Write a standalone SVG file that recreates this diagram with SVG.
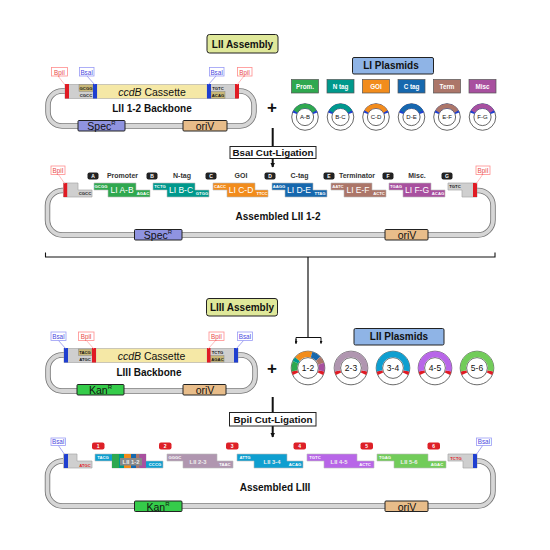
<svg xmlns="http://www.w3.org/2000/svg" width="550" height="550" viewBox="0 0 550 550">
<defs>
<marker id="ah" markerWidth="6" markerHeight="5" refX="4.5" refY="2.5" orient="auto" markerUnits="userSpaceOnUse"><path d="M0,0L5,2.5L0,5Z" fill="#111"/></marker>
<marker id="ahs" markerWidth="3" markerHeight="3" refX="2.5" refY="1.5" orient="auto" markerUnits="userSpaceOnUse"><path d="M0,0L3,1.5L0,3Z" fill="#111"/></marker>
</defs>
<style>
text{font-family:"Liberation Sans",Arial,sans-serif;text-anchor:middle;dominant-baseline:central;fill:#111}
.b{font-weight:bold}
.title{font-weight:bold;font-size:10px}
.hd{fill:#dfe89a;stroke:#222;stroke-width:1}
.hb{fill:#8fb4e6;stroke:#222;stroke-width:1}
.pipeo{fill:none;stroke:#777;stroke-width:5.5}
.pipei{fill:none;stroke:#d6d6d6;stroke-width:3.8}
.gray{fill:#cfcfcf;stroke:#a8a8a8;stroke-width:.7}
.mod{stroke:#222;stroke-width:1}
.spec{fill:#8f93e0}.ori{fill:#e8bd8a}.kan{fill:#35cc4a}
.mt{font-size:10.5px}
.sm{font-size:4.2px;font-weight:bold}
.w{fill:#fff}
.frag{stroke:#bbb;stroke-width:.6}
.fl{font-size:8.5px;fill:#fff}
.fl2{font-size:5.8px;fill:#eee;font-weight:bold}
.pk{fill:#fff;stroke:#ff8d8d;stroke-width:.8}
.bl{fill:#fff;stroke:#9a9cf5;stroke-width:.8}
.pkl{stroke:#ff8d8d;stroke-width:.6}
.bll{stroke:#6a6ce8;stroke-width:.6}
.pkt{font-size:6.3px;fill:#e84a4a}
.blt{font-size:6.3px;fill:#4a4ae0}
.site{font-size:6px}
.lab{font-size:7px;font-weight:bold;fill:#333}
.bd{fill:#222}
.rd{fill:#dd2027}
.bdt{font-size:5px;font-weight:bold;fill:#fff}
.over{fill:#c9b878;stroke:#888;stroke-width:.5}
.rc{fill:#e01b24}.bc{fill:#1f3fd0}.yl{fill:#f5e8a6;stroke:#bbb;stroke-width:.5}
.c1{fill:#fff;stroke:#444;stroke-width:.8}
.pl{font-size:6.3px;font-weight:bold;fill:#fff}
.a{fill:none;stroke-width:4.6}
.a2{fill:none;stroke-width:5.8}
.num2{font-size:8.5px}
.conn{fill:none;stroke:#111}
</style>

<g id="connectors">
<path class="conn" stroke-width="2" d="M272.7 128V146M272.7 158V167" marker-end="url(#ah)"/>
<path class="conn" stroke-width="1.1" d="M45.5 252.5V257H495V252.5"/>
<path class="conn" stroke-width="1.2" d="M308 257V337"/>
<path class="conn" stroke-width="1" d="M296 343.5V337.5H321V343.5" marker-end="url(#ahs)"/>
<path class="conn" stroke-width="1" d="M296 339V343.5" marker-end="url(#ahs)"/>
<path class="conn" stroke-width="2" d="M272.7 397V412M272.7 426V437" marker-end="url(#ah)"/>
</g>

<g id="lii-assembly"><rect class="hd" x="207" y="34.5" width="71" height="18.5" rx="2.5"/><text class="title" x="242.5" y="44">LII Assembly</text></g>

<g id="lii-backbone">
<path class="pipeo" d="M65 91H62A14 14 0 0 0 48 105V112A14 14 0 0 0 62 126H240A14 14 0 0 0 254 112V105A14 14 0 0 0 240 91H238"/>
<path class="pipei" d="M65 91H62A14 14 0 0 0 48 105V112A14 14 0 0 0 62 126H240A14 14 0 0 0 254 112V105A14 14 0 0 0 240 91H238"/>
<rect class="gray" x="65" y="84.5" width="173" height="14"/>
<rect class="yl" x="97" y="84.5" width="110" height="14"/>
<rect class="over" x="79" y="84.5" width="14" height="7"/><rect class="over" x="211" y="91.5" width="14" height="7"/>
<rect class="rc" x="65" y="84" width="4" height="14.5"/><rect class="bc" x="93" y="84" width="4" height="14.5"/><rect class="bc" x="207" y="84" width="4" height="14.5"/><rect class="rc" x="235" y="84" width="4" height="14.5"/>
<text class="sm" x="86" y="88">GCGG</text><text class="sm" x="86" y="95">CGCC</text><text class="sm" x="218" y="88">TGTC</text><text class="sm" x="218" y="95">ACAG</text>
<text class="mt" x="152" y="91.5"><tspan font-style="italic">ccdB</tspan> Cassette</text>
<text class="title" x="152" y="108.5">LII 1-2 Backbone</text>
<path class="pkl" d="M58 76L65 85M244 76L237 85"/><path class="bll" d="M87 76L95 85M216 76L208 85"/>
<rect class="pk" x="51.5" y="67.5" width="16" height="8.5"/><rect class="bl" x="79.5" y="67.5" width="14.5" height="8.5"/><rect class="bl" x="209.5" y="67.5" width="14.5" height="8.5"/><rect class="pk" x="237.5" y="67.5" width="14.5" height="8.5"/>
<text class="pkt" x="59.5" y="72">BpiI</text><text class="blt" x="86.7" y="72">BsaI</text><text class="blt" x="216.7" y="72">BsaI</text><text class="pkt" x="244.7" y="72">BpiI</text>
<rect class="mod spec" x="78" y="120.5" width="47" height="10.5" rx="1"/><text class="mt" x="101.5" y="126">Spec<tspan font-size="6" dy="-3">R</tspan></text>
<rect class="mod ori" x="183" y="120.5" width="44" height="10.5" rx="1"/><text class="mt" x="205" y="126">oriV</text>
</g>

<g id="plus-1"><text class="b" x="272" y="107" font-size="17">+</text></g>

<g id="li-plasmids"><rect class="hb" x="352.5" y="57.5" width="81" height="16.5" rx="1.5"/><text class="title" x="391" y="65.5">LI Plasmids</text></g>
<g id="li-legend">
<rect x="291.5" y="79.5" width="27" height="13.5" fill="#2fa84f" stroke="#555" stroke-width=".7"/><text class="pl" x="305" y="86.3">Prom.</text>
<rect x="327" y="79.5" width="27" height="13.5" fill="#00998c" stroke="#555" stroke-width=".7"/><text class="pl" x="340.5" y="86.3">N tag</text>
<rect x="362.5" y="79.5" width="27" height="13.5" fill="#f28c1c" stroke="#555" stroke-width=".7"/><text class="pl" x="376" y="86.3">GOI</text>
<rect x="398" y="79.5" width="27" height="13.5" fill="#1668ae" stroke="#555" stroke-width=".7"/><text class="pl" x="411.5" y="86.3">C tag</text>
<rect x="433.5" y="79.5" width="27" height="13.5" fill="#ac7669" stroke="#555" stroke-width=".7"/><text class="pl" x="447" y="86.3">Term</text>
<rect x="469" y="79.5" width="27" height="13.5" fill="#a8509f" stroke="#555" stroke-width=".7"/><text class="pl" x="482.5" y="86.3">Misc</text>
</g>
<g id="li-ab" transform="translate(305 117)"><circle class="c1" r="13.3"/><circle class="c1" r="8.6"/><path class="a" stroke="#1f3fd0" d="M-10.3 -3.8A11 11 0 0 1 10.3 -3.8"/><path class="a" stroke="#2fa84f" d="M-9.5 -5.5A11 11 0 0 1 9.5 -5.5"/><text class="site" y="0">A-B</text></g>
<g id="li-bc" transform="translate(340.5 117)"><circle class="c1" r="13.3"/><circle class="c1" r="8.6"/><path class="a" stroke="#1f3fd0" d="M-10.3 -3.8A11 11 0 0 1 10.3 -3.8"/><path class="a" stroke="#00998c" d="M-9.5 -5.5A11 11 0 0 1 9.5 -5.5"/><text class="site" y="0">B-C</text></g>
<g id="li-cd" transform="translate(376 117)"><circle class="c1" r="13.3"/><circle class="c1" r="8.6"/><path class="a" stroke="#1f3fd0" d="M-10.3 -3.8A11 11 0 0 1 10.3 -3.8"/><path class="a" stroke="#f28c1c" d="M-9.5 -5.5A11 11 0 0 1 9.5 -5.5"/><text class="site" y="0">C-D</text></g>
<g id="li-de" transform="translate(411.5 117)"><circle class="c1" r="13.3"/><circle class="c1" r="8.6"/><path class="a" stroke="#1f3fd0" d="M-10.3 -3.8A11 11 0 0 1 10.3 -3.8"/><path class="a" stroke="#1668ae" d="M-9.5 -5.5A11 11 0 0 1 9.5 -5.5"/><text class="site" y="0">D-E</text></g>
<g id="li-ef" transform="translate(447 117)"><circle class="c1" r="13.3"/><circle class="c1" r="8.6"/><path class="a" stroke="#1f3fd0" d="M-10.3 -3.8A11 11 0 0 1 10.3 -3.8"/><path class="a" stroke="#ac7669" d="M-9.5 -5.5A11 11 0 0 1 9.5 -5.5"/><text class="site" y="0">E-F</text></g>
<g id="li-fg" transform="translate(482.5 117)"><circle class="c1" r="13.3"/><circle class="c1" r="8.6"/><path class="a" stroke="#1f3fd0" d="M-10.3 -3.8A11 11 0 0 1 10.3 -3.8"/><path class="a" stroke="#a8509f" d="M-9.5 -5.5A11 11 0 0 1 9.5 -5.5"/><text class="site" y="0">F-G</text></g>

<g id="bsai-step"><rect x="230" y="146.5" width="86" height="12" fill="#fff" stroke="#222" stroke-width="1"/><text class="b" x="273" y="152.7" font-size="9.8">BsaI Cut-Ligation</text></g>

<g id="assembled-lii">
<path class="pipeo" d="M63 190.5H62A15 15 0 0 0 47.5 205.5V220A15 15 0 0 0 62.5 235H478A15 15 0 0 0 493 220V205.5A15 15 0 0 0 478 190.5H477"/>
<path class="pipei" d="M63 190.5H62A15 15 0 0 0 47.5 205.5V220A15 15 0 0 0 62.5 235H478A15 15 0 0 0 493 220V205.5A15 15 0 0 0 478 190.5H477"/>
<path class="gray" d="M63.5 183H78V190H92V197H63.5Z"/><rect class="rc" x="63.5" y="183" width="3.7" height="14"/><text class="sm" x="85" y="193.5" fill="#333">CGCC</text>
<path class="gray" d="M448 183H477V197H462V190H448Z"/><rect class="rc" x="473" y="183" width="4" height="14"/><text class="sm" x="455" y="186.5">TGTC</text>
<path class="pkl" d="M58 174L65 184M483 174L476 184"/>
<rect class="pk" x="51" y="166" width="14" height="8.5"/><text class="pkt" x="58" y="170.3">BpiI</text>
<rect class="pk" x="476" y="166" width="14" height="8.5"/><text class="pkt" x="483" y="170.3">BpiI</text>
<text class="title" x="278" y="216">Assembled LII 1-2</text>
<rect class="mod spec" x="134.5" y="229.5" width="47.5" height="10.5" rx="1"/><text class="mt" x="158" y="235">Spec<tspan font-size="6" dy="-3">R</tspan></text>
<rect class="mod ori" x="385" y="229.5" width="43" height="10.5" rx="1"/><text class="mt" x="407" y="235">oriV</text>
<rect class="bd" x="87.5" y="172.5" width="11" height="7" rx="2"/><text class="bdt" x="93" y="176">A</text>
<rect class="bd" x="146.5" y="172.5" width="11" height="7" rx="2"/><text class="bdt" x="152" y="176">B</text>
<rect class="bd" x="205.5" y="172.5" width="11" height="7" rx="2"/><text class="bdt" x="211" y="176">C</text>
<rect class="bd" x="264.5" y="172.5" width="11" height="7" rx="2"/><text class="bdt" x="270" y="176">D</text>
<rect class="bd" x="323.5" y="172.5" width="11" height="7" rx="2"/><text class="bdt" x="329" y="176">E</text>
<rect class="bd" x="382.5" y="172.5" width="11" height="7" rx="2"/><text class="bdt" x="388" y="176">F</text>
<rect class="bd" x="441.5" y="172.5" width="11" height="7" rx="2"/><text class="bdt" x="447" y="176">G</text>
<text class="lab" x="122.5" y="175.5">Promoter</text><text class="lab" x="182" y="175.5">N-tag</text><text class="lab" x="241" y="175.5">GOI</text><text class="lab" x="299.5" y="175.5">C-tag</text><text class="lab" x="357" y="175.5">Terminator</text><text class="lab" x="417" y="175.5">Misc.</text>
</g>

<g id="li-a-b"><path class="frag" fill="#2fa84f" d="M94 183H136V190H150V197H108V190H94Z"/><text class="fl" x="122" y="190">LI A-B</text><text class="sm w" x="101" y="186.5">GCGG</text><text class="sm w" x="143" y="193.5">AGAC</text></g>
<g id="li-b-c"><path class="frag" fill="#00998c" d="M153 183H195V190H209V197H167V190H153Z"/><text class="fl" x="181" y="190">LI B-C</text><text class="sm w" x="160" y="186.5">TCTG</text><text class="sm w" x="202" y="193.5">GTGG</text></g>
<g id="li-c-d"><path class="frag" fill="#f28c1c" d="M213 183H255V190H268V197H227V190H213Z"/><text class="fl" x="241" y="190">LI C-D</text><text class="sm w" x="220" y="186.5">CACC</text><text class="sm w" x="262" y="193.5">TTCC</text></g>
<g id="li-d-e"><path class="frag" fill="#1668ae" d="M272 183H313V190H327V197H285V190H272Z"/><text class="fl" x="299" y="190">LI D-E</text><text class="sm w" x="279" y="186.5">AAGG</text><text class="sm w" x="320" y="193.5">TTAG</text></g>
<g id="li-e-f"><path class="frag" fill="#ac7669" d="M331 183H372V190H386V197H344V190H331Z"/><text class="fl" x="358" y="190">LI E-F</text><text class="sm w" x="338" y="186.5">AATC</text><text class="sm w" x="379" y="193.5">ACTC</text></g>
<g id="li-f-g"><path class="frag" fill="#a8509f" d="M389 183H431V190H445V197H403V190H389Z"/><text class="fl" x="417" y="190">LI F-G</text><text class="sm w" x="396" y="186.5">TGAG</text><text class="sm w" x="438" y="193.5">ACAG</text></g>

<g id="liii-assembly"><rect class="hd" x="206.5" y="298.5" width="71" height="17.5" rx="2.5"/><text class="title" x="242" y="307.5">LIII Assembly</text></g>

<g id="liii-backbone">
<path class="pipeo" d="M64 355H62A14 14 0 0 0 48 369V377A14 14 0 0 0 62 391H241A14 14 0 0 0 255 377V369A14 14 0 0 0 241 355H238"/>
<path class="pipei" d="M64 355H62A14 14 0 0 0 48 369V377A14 14 0 0 0 62 391H241A14 14 0 0 0 255 377V369A14 14 0 0 0 241 355H238"/>
<rect class="gray" x="64" y="348.5" width="174" height="14"/>
<rect class="yl" x="96" y="348.5" width="111" height="14"/>
<rect class="over" x="78.5" y="349" width="13.5" height="6.5"/><rect class="over" x="210.5" y="355.5" width="13.5" height="6.5"/>
<rect class="bc" x="64" y="348" width="4" height="14.5"/><rect class="rc" x="92" y="348" width="4" height="14.5"/><rect class="rc" x="207" y="348" width="3.5" height="14.5"/><rect class="bc" x="234" y="348" width="4" height="14.5"/>
<text class="sm" x="85" y="352">TACG</text><text class="sm" x="85" y="359">ATGC</text><text class="sm" x="217.5" y="352">TCTG</text><text class="sm" x="217.5" y="359">AGAC</text>
<text class="mt" x="151.5" y="356"><tspan font-style="italic">ccdB</tspan> Cassette</text>
<text class="title" x="149" y="372">LIII Backbone</text>
<path class="bll" d="M58 340L66 349M244 340L236 349"/><path class="pkl" d="M86 340L94 349M216 340L208 349"/>
<rect class="bl" x="51" y="332" width="15" height="8.5"/><rect class="pk" x="78.5" y="332" width="15.5" height="8.5"/><rect class="pk" x="209" y="332" width="15" height="8.5"/><rect class="bl" x="237.5" y="332" width="15" height="8.5"/>
<text class="blt" x="58.5" y="336.3">BsaI</text><text class="pkt" x="86.2" y="336.3">BpiI</text><text class="pkt" x="216.5" y="336.3">BpiI</text><text class="blt" x="245" y="336.3">BsaI</text>
<rect class="mod kan" x="77" y="384.5" width="47" height="10.5" rx="1"/><text class="mt" x="100.5" y="390">Kan<tspan font-size="6" dy="-3">R</tspan></text>
<rect class="mod ori" x="183" y="384.5" width="43" height="10.5" rx="1"/><text class="mt" x="205" y="390">oriV</text>
</g>

<g id="plus-2"><text class="b" x="272" y="368" font-size="17">+</text></g>

<g id="lii-plasmids"><rect class="hb" x="354" y="328.5" width="90" height="16.5" rx="1.5"/><text class="title" x="399" y="336.5">LII Plasmids</text></g>

<g id="lii-12" transform="translate(308 368)"><circle class="c1" r="16.8"/><circle class="c1" r="10.4"/>
<path class="a2" stroke="#e01b24" d="M-12.46 5.81A13.75 13.75 0 0 1 -13.45 2.86M12.46 5.81A13.75 13.75 0 0 0 13.45 2.86"/>
<path class="a2" stroke="#2fa84f" d="M-13.45 2.86A13.75 13.75 0 0 1 -12.46 -5.81"/><path class="a2" stroke="#00998c" d="M-12.46 -5.81A13.75 13.75 0 0 1 -10.53 -8.84"/><path class="a2" stroke="#f28c1c" d="M-10.53 -8.84A13.75 13.75 0 0 1 3.56 -13.28"/><path class="a2" stroke="#1668ae" d="M3.56 -13.28A13.75 13.75 0 0 1 10.22 -9.2"/><path class="a2" stroke="#ac7669" d="M10.22 -9.2A13.75 13.75 0 0 1 13.08 -4.25"/><path class="a2" stroke="#a8509f" d="M13.08 -4.25A13.75 13.75 0 0 1 13.45 2.86"/>
<text class="num2" y="0">1-2</text></g>
<g id="lii-23" transform="translate(351 368)"><circle class="c1" r="16.8"/><circle class="c1" r="10.4"/><path class="a2" stroke="#e01b24" d="M-12.46 5.81A13.75 13.75 0 0 1 -13.45 2.86M12.46 5.81A13.75 13.75 0 0 0 13.45 2.86"/><path class="a2" stroke="#b096b0" d="M-13.45 2.86A13.75 13.75 0 1 1 13.45 2.86"/><text class="num2" y="0">2-3</text></g>
<g id="lii-34" transform="translate(393 368)"><circle class="c1" r="16.8"/><circle class="c1" r="10.4"/><path class="a2" stroke="#e01b24" d="M-12.46 5.81A13.75 13.75 0 0 1 -13.45 2.86M12.46 5.81A13.75 13.75 0 0 0 13.45 2.86"/><path class="a2" stroke="#0f9fd0" d="M-13.45 2.86A13.75 13.75 0 1 1 13.45 2.86"/><text class="num2" y="0">3-4</text></g>
<g id="lii-45" transform="translate(435 368)"><circle class="c1" r="16.8"/><circle class="c1" r="10.4"/><path class="a2" stroke="#e01b24" d="M-12.46 5.81A13.75 13.75 0 0 1 -13.45 2.86M12.46 5.81A13.75 13.75 0 0 0 13.45 2.86"/><path class="a2" stroke="#b866e8" d="M-13.45 2.86A13.75 13.75 0 1 1 13.45 2.86"/><text class="num2" y="0">4-5</text></g>
<g id="lii-56" transform="translate(477 368)"><circle class="c1" r="16.8"/><circle class="c1" r="10.4"/><path class="a2" stroke="#e01b24" d="M-12.46 5.81A13.75 13.75 0 0 1 -13.45 2.86M12.46 5.81A13.75 13.75 0 0 0 13.45 2.86"/><path class="a2" stroke="#72cc5a" d="M-13.45 2.86A13.75 13.75 0 1 1 13.45 2.86"/><text class="num2" y="0">5-6</text></g>

<g id="bpii-step"><rect x="229.5" y="412.5" width="86.5" height="13.5" fill="#fff" stroke="#222" stroke-width="1"/><text class="b" x="273" y="419.3" font-size="9.8">BpiI Cut-Ligation</text></g>

<g id="assembled-liii">
<path class="pipeo" d="M63 461H62A15 15 0 0 0 47.5 476V491A15 15 0 0 0 62.5 506H478A15 15 0 0 0 493 491V476A15 15 0 0 0 478 461H477"/>
<path class="pipei" d="M63 461H62A15 15 0 0 0 47.5 476V491A15 15 0 0 0 62.5 506H478A15 15 0 0 0 493 491V476A15 15 0 0 0 478 461H477"/>
<path class="gray" d="M63.5 454H77V461H92V468H63.5Z"/><rect class="bc" x="64" y="454" width="4" height="14"/><text class="sm" x="85" y="465" style="fill:#e01b24">ATGC</text>
<path class="gray" d="M448 454H477V468H463V461H448Z"/><rect class="bc" x="473" y="454" width="4" height="14"/><text class="sm" x="456" y="458" style="fill:#e01b24">TCTG</text>
<path class="bll" d="M58 445L65 455M483 445L476 455"/>
<rect class="bl" x="51" y="438" width="14.5" height="7.5"/><text class="blt" x="58.3" y="441.8">BsaI</text>
<rect class="bl" x="476.5" y="438" width="15" height="7.5"/><text class="blt" x="484" y="441.8">BsaI</text>
<text class="title" x="275" y="487.5">Assembled LIII</text>
<rect class="mod kan" x="134.5" y="501" width="47.5" height="10.5" rx="1"/><text class="mt" x="158" y="506.5">Kan<tspan font-size="6" dy="-3">R</tspan></text>
<rect class="mod ori" x="385" y="501" width="43" height="10.5" rx="1"/><text class="mt" x="407" y="506.5">oriV</text>
<rect class="rd" x="92" y="442.5" width="12.5" height="7" rx="2"/><text class="bdt" x="98.2" y="446">1</text>
<rect class="rd" x="159" y="442.5" width="12.5" height="7" rx="2"/><text class="bdt" x="165.2" y="446">2</text>
<rect class="rd" x="226" y="442.5" width="12.5" height="7" rx="2"/><text class="bdt" x="232.2" y="446">3</text>
<rect class="rd" x="293.5" y="442.5" width="12.5" height="7" rx="2"/><text class="bdt" x="299.7" y="446">4</text>
<rect class="rd" x="360.5" y="442.5" width="12.5" height="7" rx="2"/><text class="bdt" x="366.7" y="446">5</text>
<rect class="rd" x="427.5" y="442.5" width="12.5" height="7" rx="2"/><text class="bdt" x="433.7" y="446">6</text>
</g>

<g id="lii-1-2-frag">
<path class="frag" fill="#0f9fd0" d="M95 454H146V461H163V468H112V461H95Z"/>
<rect x="112" y="454" width="7" height="14" fill="#2fa84f"/><rect x="119" y="454" width="5" height="14" fill="#00998c"/><rect x="124" y="454" width="7" height="14" fill="#f28c1c"/><rect x="131" y="454" width="5" height="14" fill="#1668ae"/><rect x="136" y="454" width="3.5" height="14" fill="#ac7669"/><rect x="139.5" y="454" width="6.5" height="14" fill="#a8509f"/>
<rect x="120" y="458" width="22" height="7.5" fill="#888"/>
<text class="fl2" x="131" y="461.8">LII 1-2</text><text class="sm w" x="103" y="457.7">TACG</text><text class="sm w" x="155" y="464.7">CCCG</text></g>
<g id="lii-2-3-frag"><path class="frag" fill="#b096b0" d="M167 454H217V461H233V468H183V461H167Z"/><text class="fl2" x="198" y="461.5">LII 2-3</text><text class="sm w" x="175" y="457.7">GGGC</text><text class="sm w" x="225" y="464.7">TAAC</text></g>
<g id="lii-3-4-frag"><path class="frag" fill="#0f9fd0" d="M237 454H287V461H303V468H254V461H237Z"/><text class="fl2" x="272" y="461.5">LII 3-4</text><text class="sm w" x="245" y="457.7">ATTG</text><text class="sm w" x="295" y="464.7">ACAG</text></g>
<g id="lii-4-5-frag"><path class="frag" fill="#b866e8" d="M307 454H357V461H374V468H324V461H307Z"/><text class="fl2" x="339" y="461.5">LII 4-5</text><text class="sm w" x="315" y="457.7">TGTC</text><text class="sm w" x="365" y="464.7">ACTC</text></g>
<g id="lii-5-6-frag"><path class="frag" fill="#72cc5a" d="M377 454H428V461H446V468H394V461H377Z"/><text class="fl2" x="409" y="461.5">LII 5-6</text><text class="sm w" x="385" y="457.7">TGAG</text><text class="sm w" x="437" y="464.7">AGAC</text></g>
</svg>
